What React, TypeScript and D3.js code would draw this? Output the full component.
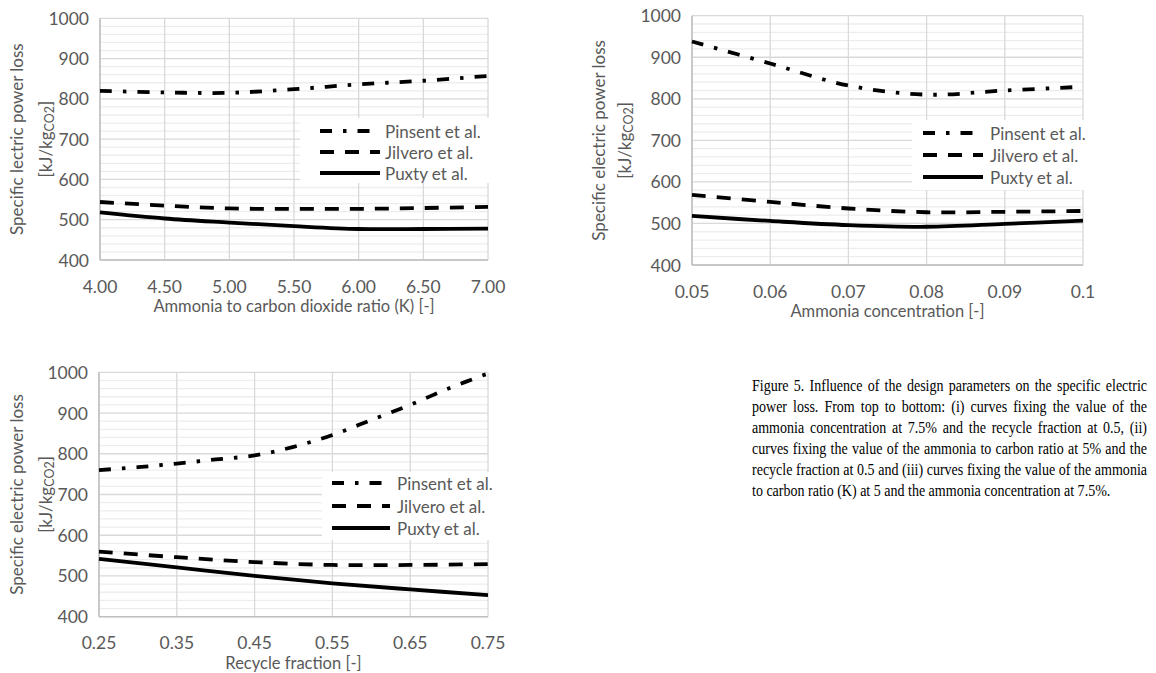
import React, { useLayoutEffect, useRef } from "react";
import * as d3 from "d3";

// series shared by all three panels
const seriesNames = ["Pinsent et al.", "Jilvero et al.", "Puxty et al."];
const yTicks = [400, 500, 600, 700, 800, 900, 1000];

// panel 1: ammonia to carbon dioxide ratio (K)
const ratioX = [4.0, 4.5, 5.0, 5.5, 6.0, 6.5, 7.0];
const ratioPinsent = [820, 816, 815, 824, 836, 845, 857];
const ratioJilvero = [544, 535, 528, 527, 527, 529, 532];
const ratioPuxty = [518, 503, 493, 484, 477, 477, 478];
const ratioTicks = [4.0, 4.5, 5.0, 5.5, 6.0, 6.5, 7.0];
const ratioTickLabels = ["4.00", "4.50", "5.00", "5.50", "6.00", "6.50", "7.00"];

// panel 2: ammonia concentration
const concX = [0.05, 0.06, 0.07, 0.08, 0.09, 0.1];
const concPinsent = [938, 885, 832, 810, 820, 829];
const concJilvero = [569, 552, 536, 527, 528, 530];
const concPuxty = [518, 506, 496, 492, 499, 507];
const concTicks = [0.05, 0.06, 0.07, 0.08, 0.09, 0.1];
const concTickLabels = ["0.05", "0.06", "0.07", "0.08", "0.09", "0.1"];

// panel 3: recycle fraction
const recyclePinsentX = [0.25, 0.3, 0.35, 0.4, 0.45, 0.5, 0.55, 0.6, 0.65, 0.7, 0.75];
const recyclePinsent = [760, 767, 776, 786, 796, 817, 846, 883, 920, 961, 997];
const recycleX = [0.25, 0.35, 0.45, 0.55, 0.65, 0.75];
const recycleJilvero = [560, 546, 534, 527, 527, 529];
const recyclePuxty = [542, 521, 500, 482, 467, 453];
const recycleTicks = [0.25, 0.35, 0.45, 0.55, 0.65, 0.75];
const recycleTickLabels = ["0.25", "0.35", "0.45", "0.55", "0.65", "0.75"];

const captionLines = [
  "Figure 5. Influence of the design parameters on the specific electric",
  "power loss. From top to bottom: (i) curves fixing the value of the",
  "ammonia concentration at 7.5% and the recycle fraction at 0.5, (ii)",
  "curves fixing the value of the ammonia to carbon ratio at 5% and the",
  "recycle fraction at 0.5 and (iii) curves fixing the value of the ammonia",
  "to carbon ratio (K) at 5 and the ammonia concentration at 7.5%.",
];

const dashes = ["12 11 3.5 11", "14 11", null];
const GRAY = "#595959";
const FONT = "Lato, 'Open Sans', sans-serif";

function Panel(props) {
  const { box, xs, ys, xTicks, xLabels, xTitle, yTitle, yTitleX, legend } = props;
  const x = d3.scaleLinear().domain([xTicks[0], xTicks[xTicks.length - 1]]).range([box.left, box.right]);
  const y = d3.scaleLinear().domain([400, 1000]).range([box.bottom, box.top]);
  const line = d3.line().curve(d3.curveCatmullRom.alpha(0.5));
  const minor = d3.range(400, 1001, 20).filter(v => v % 100 !== 0);
  const cy = (box.top + box.bottom) / 2;
  const cx = (box.left + box.right) / 2;

  return (
    <g>
      {minor.map(v => (
        <line key={"m" + v} x1={box.left} x2={box.right} y1={y(v)} y2={y(v)} stroke="#ededed" strokeWidth={1.3} />
      ))}
      {yTicks.map(v => (
        <line key={"g" + v} x1={box.left} x2={box.right} y1={y(v)} y2={y(v)} stroke="#d9d9d9" strokeWidth={1.3} />
      ))}
      {xTicks.map(v => (
        <line key={"v" + v} x1={x(v)} x2={x(v)} y1={box.top} y2={box.bottom} stroke="#d9d9d9" strokeWidth={1.3} />
      ))}
      <line x1={box.left} x2={box.left} y1={box.top} y2={box.bottom} stroke="#bfbfbf" strokeWidth={1.5} />
      <line x1={box.left} x2={box.right} y1={box.bottom} y2={box.bottom} stroke="#bfbfbf" strokeWidth={1.5} />

      {yTicks.map(v => (
        <text key={"yl" + v} x={box.left - 11} y={y(v)} textAnchor="end" dominantBaseline="central"
          fontFamily={FONT} fontSize={17.5} fill={GRAY}>{v}</text>
      ))}
      {xTicks.map((v, i) => (
        <text key={"xl" + v} x={x(v)} y={box.bottom + 26} textAnchor="middle" dominantBaseline="central"
          fontFamily={FONT} fontSize={17.5} fill={GRAY}>{xLabels[i]}</text>
      ))}
      <text x={cx} y={box.bottom + 46} textAnchor="middle" dominantBaseline="central"
        fontFamily={FONT} fontSize={16.5} fill={GRAY}>{xTitle}</text>

      <text transform={`translate(${yTitleX[0]},${cy}) rotate(-90)`} textAnchor="middle" dominantBaseline="central"
        fontFamily={FONT} fontSize={17} fill={GRAY}>{yTitle}</text>
      <text transform={`translate(${yTitleX[1]},${cy}) rotate(-90)`} textAnchor="middle" dominantBaseline="central"
        fontFamily={FONT} fontSize={17} fill={GRAY}>
        [kJ/kg<tspan fontSize={12.5} dy={4}>CO2</tspan><tspan dy={-4}>]</tspan>
      </text>

      {ys.map((vals, k) => (
        <path key={"s" + k}
          d={line(vals.map((v, i) => [x(xs[k][i]), y(v)]))}
          fill="none" stroke="#000" strokeWidth={3.8}
          strokeDasharray={dashes[k] || undefined} />
      ))}

      <rect x={legend.x} y={legend.y} width={box.right + 1.5 - legend.x} height={legend.h} fill="#fff" />
      {seriesNames.map((name, k) => (
        <g key={name}>
          <line x1={legend.sx0} x2={legend.sx1} y1={legend.rows[k]} y2={legend.rows[k]}
            stroke="#000" strokeWidth={3.8} strokeDasharray={dashes[k] || undefined} />
          <text x={legend.tx} y={legend.rows[k]} dominantBaseline="central"
            fontFamily={FONT} fontSize={17} fill={GRAY}>{name}</text>
        </g>
      ))}
    </g>
  );
}

function Caption() {
  const ref = useRef(null);
  // caption block spans x 752..1147; the face is drawn slightly condensed
  const x0 = 752, x1 = 1147, sx = 0.85;
  const target = (x1 - x0) / sx;
  useLayoutEffect(() => {
    const justify = () => {
      d3.select(ref.current).selectAll("text.just").each(function () {
        const el = this;
        el.setAttribute("word-spacing", "0");
        const w = el.getComputedTextLength();
        const n = (el.textContent.match(/ /g) || []).length;
        if (n > 0) el.setAttribute("word-spacing", String((target - w) / n));
      });
    };
    justify();
    if (document.fonts) document.fonts.ready.then(justify);
  }, []);
  return (
    <g ref={ref} transform={`translate(${x0},0) scale(${sx},1)`}>
      {captionLines.map((t, i) => (
        <text key={i} className={i < captionLines.length - 1 ? "just" : ""} x={0} y={391 + i * 21}
          fontFamily="'Liberation Serif', 'Times New Roman', serif" fontSize={16.5} fill="#000">{t}</text>
      ))}
    </g>
  );
}

export default function App() {
  return (
    <svg width={1156} height={673} style={{ position: "absolute", left: 0, top: 0, background: "#fff" }}>
      <Panel
        box={{ left: 100, right: 488, top: 18.3, bottom: 260 }}
        xs={[ratioX, ratioX, ratioX]}
        ys={[ratioPinsent, ratioJilvero, ratioPuxty]}
        xTicks={ratioTicks} xLabels={ratioTickLabels}
        xTitle="Ammonia to carbon dioxide ratio (K) [-]"
        yTitle="Specific lectric power loss"
        yTitleX={[16, 45]}
        legend={{ x: 300, y: 118, h: 65, sx0: 320, sx1: 380, tx: 385, rows: [131, 152, 173] }}
      />
      <Panel
        box={{ left: 692, right: 1083, top: 15.7, bottom: 265 }}
        xs={[concX, concX, concX]}
        ys={[concPinsent, concJilvero, concPuxty]}
        xTicks={concTicks} xLabels={concTickLabels}
        xTitle="Ammonia concentration [-]"
        yTitle="Specific electric power loss"
        yTitleX={[598, 624]}
        legend={{ x: 912, y: 120, h: 70, sx0: 923, sx1: 983, tx: 990, rows: [133, 155, 177] }}
      />
      <Panel
        box={{ left: 99, right: 488, top: 372.3, bottom: 616.7 }}
        xs={[recyclePinsentX, recycleX, recycleX]}
        ys={[recyclePinsent, recycleJilvero, recyclePuxty]}
        xTicks={recycleTicks} xLabels={recycleTickLabels}
        xTitle="Recycle fraction [-]"
        yTitle="Specific electric power loss"
        yTitleX={[16, 45]}
        legend={{ x: 322, y: 472, h: 68, sx0: 332, sx1: 390, tx: 397, rows: [483, 506, 528] }}
      />
      <Caption />
    </svg>
  );
}
